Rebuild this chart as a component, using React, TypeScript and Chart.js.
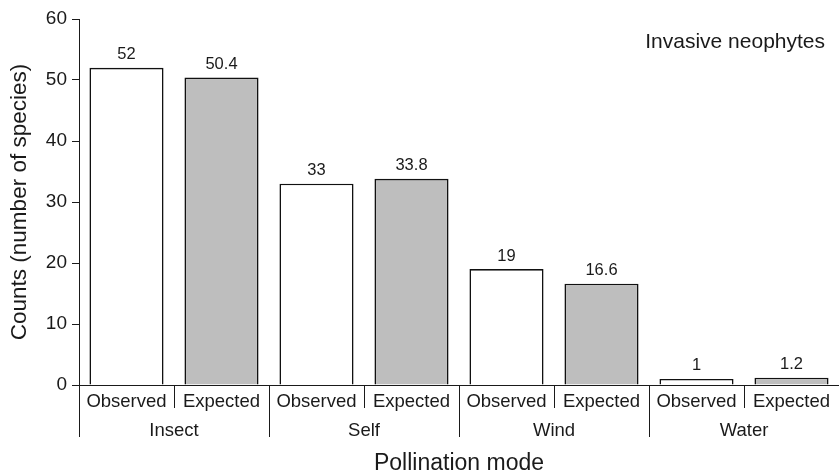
import React, { useEffect, useRef } from "react";
import { Chart, registerables } from "chart.js";

Chart.register(...registerables);

const groups = ["Insect", "Self", "Wind", "Water"];
const barTypes = ["Observed", "Expected"];
const observed = [52, 33, 19, 1];
const expected = [50.4, 33.8, 16.6, 1.2];
const valueLabels = ["52", "50.4", "33", "33.8", "19", "16.6", "1", "1.2"];
const yTicks = [0, 10, 20, 30, 40, 50, 60];
const chartTitle = "Invasive neophytes";
const xTitle = "Pollination mode";
const yTitle = "Counts (number of species)";

const FONT = "'Liberation Sans', Arial, Helvetica, sans-serif";
const INK = "#1a1a1a";

export default function App() {
  const ref = useRef<HTMLCanvasElement | null>(null);

  useEffect(() => {
    document.body.style.margin = "0";
    const labels: string[] = [];
    const values: number[] = [];
    const colors: string[] = [];
    groups.forEach((g, i) => {
      labels.push(g + " " + barTypes[0]);
      values.push(observed[i]);
      colors.push("#ffffff");
      labels.push(g + " " + barTypes[1]);
      values.push(expected[i]);
      colors.push("#bebebe");
    });

    const overlay = {
      id: "overlay",
      afterDraw(chart: any) {
        const ctx = chart.ctx;
        const x = chart.scales.x;
        const area = chart.chartArea;
        const meta = chart.getDatasetMeta(0);
        ctx.save();
        ctx.fillStyle = INK;
        ctx.textAlign = "center";
        ctx.textBaseline = "middle";
        // value labels
        ctx.font = `16.5px ${FONT}`;
        meta.data.forEach((bar: any, i: number) => {
          ctx.fillText(valueLabels[i], bar.x, bar.y - 13);
        });
        // x labels
        const step = x.getPixelForValue(1) - x.getPixelForValue(0);
        const base = area.bottom;
        ctx.strokeStyle = INK;
        ctx.lineWidth = 1;
        ctx.font = `18.5px ${FONT}`;
        for (let i = 0; i < labels.length; i++) {
          const cx = x.getPixelForValue(i);
          ctx.fillText(barTypes[i % 2], cx, base + 17);
          const bx = Math.round(cx - step / 2) + 0.5;
          const long = i % 2 === 0;
          ctx.beginPath();
          ctx.moveTo(bx, base);
          ctx.lineTo(bx, base + (long ? 52 : 23));
          ctx.stroke();
        }
        groups.forEach((g, gi) => {
          const cx = (x.getPixelForValue(gi * 2) + x.getPixelForValue(gi * 2 + 1)) / 2;
          ctx.fillText(g, cx, base + 46);
        });
        ctx.font = `23px ${FONT}`;
        ctx.fillText(xTitle, (area.left + area.right) / 2, base + 79);
        // chart title
        ctx.font = `21px ${FONT}`;
        ctx.textAlign = "right";
        ctx.fillText(chartTitle, 825, 42);
        ctx.restore();
      },
    };

    const chart = new Chart(ref.current as HTMLCanvasElement, {
      type: "bar",
      data: {
        labels,
        datasets: [
          {
            data: values,
            backgroundColor: colors,
            borderColor: "#111111",
            borderWidth: 1.6,
            barPercentage: 0.78,
            categoryPercentage: 1,
          },
        ],
      },
      options: {
        responsive: false,
        animation: false,
        devicePixelRatio: 1,
        layout: { padding: { top: 19, right: 0, left: 0, bottom: 0 } },
        plugins: {
          legend: { display: false },
          tooltip: { enabled: false },
        },
        scales: {
          x: {
            type: "category",
            offset: true,
            grid: { display: false },
            border: { display: true, color: INK, width: 1 },
            ticks: { display: false },
            afterFit: (s: any) => {
              s.height = 89;
            },
          },
          y: {
            min: 0,
            max: 60,
            afterBuildTicks: (s: any) => {
              s.ticks = yTicks.map((v) => ({ value: v }));
            },
            grid: {
              display: true,
              drawOnChartArea: false,
              drawTicks: true,
              tickLength: 7,
              color: INK,
            },
            border: { display: true, color: INK, width: 1 },
            ticks: {
              color: INK,
              padding: 5,
              font: { family: FONT, size: 19 },
            },
            title: {
              display: true,
              text: yTitle,
              color: INK,
              font: { family: FONT, size: 22.5 },
              padding: { top: 6, bottom: 0 },
            },
            afterFit: (s: any) => {
              s.width = 79;
            },
          },
        },
      },
      plugins: [overlay],
    });
    return () => chart.destroy();
  }, []);

  return (
    <div style={{ width: 839, height: 474 }}>
      <canvas ref={ref} width={839} height={474} />
    </div>
  );
}
